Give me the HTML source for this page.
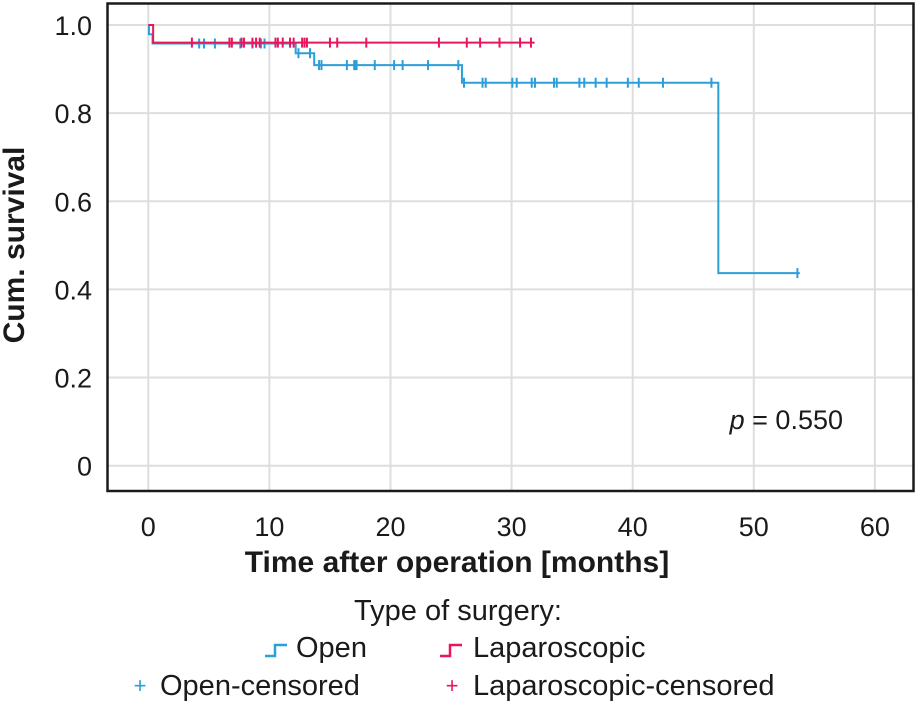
<!DOCTYPE html>
<html><head><meta charset="utf-8"><style>
body{margin:0;background:#fff;}
svg text{font-family:"Liberation Sans",sans-serif;fill:#1a1a1a;}
</style></head><body>
<svg width="916" height="703">
<g id="grid"></g>
<rect x="107.5" y="3.5" width="806" height="487.5" fill="none" stroke="#1a1a1a" stroke-width="2.5"/>
<g id="ticks"></g>
<g id="series"></g>
<text x="24" y="245" font-size="30" font-weight="bold" transform="rotate(-90 24 245)" text-anchor="middle">Cum. survival</text>
<text x="457" y="572" font-size="30" font-weight="bold" text-anchor="middle">Time after operation [months]</text>
<text x="843" y="429" font-size="27" text-anchor="end"><tspan font-style="italic">p</tspan> = 0.550</text>
<g>
<text x="458" y="620" font-size="29" text-anchor="middle">Type of surgery:</text>
<g><path d="M265 656 H275 V645 H287" fill="none" stroke="#2a9fd8" stroke-width="2.5"/><text x="296" y="657" font-size="29">Open</text></g>
<g><path d="M440 656 H450 V645 H462" fill="none" stroke="#e8175d" stroke-width="2.5"/><text x="473" y="657" font-size="29">Laparoscopic</text></g>
<g><text x="140" y="693" font-size="22" style="fill:#2a9fd8" text-anchor="middle">+</text><text x="160" y="695" font-size="29">Open-censored</text></g>
<g><text x="452" y="693" font-size="22" style="fill:#e8175d" text-anchor="middle">+</text><text x="473" y="695" font-size="29">Laparoscopic-censored</text></g>
</g>
</svg>
<script>
const xTicks=[0,10,20,30,40,50,60];
const yTicks=[0,0.2,0.4,0.6,0.8,1.0];
const yTickLabels=["0","0.2","0.4","0.6","0.8","1.0"];
const openTimes=[0,0.05,0.35,12.17,13.7,25.9,47.07,53.8];
const openSurv=[1,0.979,0.958,0.936,0.909,0.869,0.437,0.437];
const openCensTimes=[4.2,4.6,5.5,7.6,8.6,9.3,9.6,12.4,13.35,14.1,14.3,16.4,17.0,17.1,17.2,18.7,20.3,21.0,23.1,25.6,26.07,27.6,27.86,30.06,30.42,31.66,31.93,33.5,33.73,35.6,36.0,36.94,37.85,39.6,40.5,42.5,46.5,53.6];
const lapTimes=[0,0.4,31.9];
const lapSurv=[1,0.96,0.96];
const lapCensTimes=[3.6,6.7,6.9,7.7,7.9,8.6,8.9,9.2,10.5,10.7,11.1,11.7,12.0,12.7,12.9,13.1,15.0,15.6,18.0,24.0,26.3,27.4,29.0,30.7,31.6];
const X=t=>148.3+t*12.11, Y=v=>465.7-v*440.7;
const NS="http://www.w3.org/2000/svg";
function mk(tag,attrs,parent){const e=document.createElementNS(NS,tag);for(const k in attrs)e.setAttribute(k,attrs[k]);parent.appendChild(e);return e;}
const grid=document.getElementById('grid'),ticks=document.getElementById('ticks'),ser=document.getElementById('series');
xTicks.forEach(t=>{const l=mk('line',{x1:X(t),x2:X(t),y1:4,y2:490,stroke:'#dedede','stroke-width':2},grid);


const tx=mk('text',{x:X(t),y:536,'font-size':27,'text-anchor':'middle'},ticks);tx.textContent=t;

});
yTicks.forEach((v,i)=>{const l=mk('line',{x1:108,x2:913,y1:Y(v),y2:Y(v),stroke:'#dedede','stroke-width':2},grid);


const tx=mk('text',{x:92,y:Y(v)+10,'font-size':27,'text-anchor':'end'},ticks);tx.textContent=yTickLabels[i];

});
function stepPath(ts,ss){let d=`M${X(ts[0])} ${Y(ss[0])}`;for(let i=1;i<ts.length;i++){d+=` H${X(ts[i])} V${Y(ss[i])}`;}return d;}
function survAt(ts,ss,t){let s=ss[0];for(let i=0;i<ts.length;i++){if(ts[i]<=t)s=ss[i];}return s;}
function drawSeries(ts,ss,cens,color,name){
const p=mk('path',{d:stepPath(ts,ss),fill:'none',stroke:color,'stroke-width':2},ser);


cens.forEach(t=>{const y=Y(survAt(ts,ss,t));const c=mk('line',{x1:X(t),x2:X(t),y1:y-5,y2:y+5,stroke:color,'stroke-width':2},ser);

});}
drawSeries(openTimes,openSurv,openCensTimes,'#2a9fd8','open');
drawSeries(lapTimes,lapSurv,lapCensTimes,'#e8175d','laparoscopic');
</script>
</body></html>
